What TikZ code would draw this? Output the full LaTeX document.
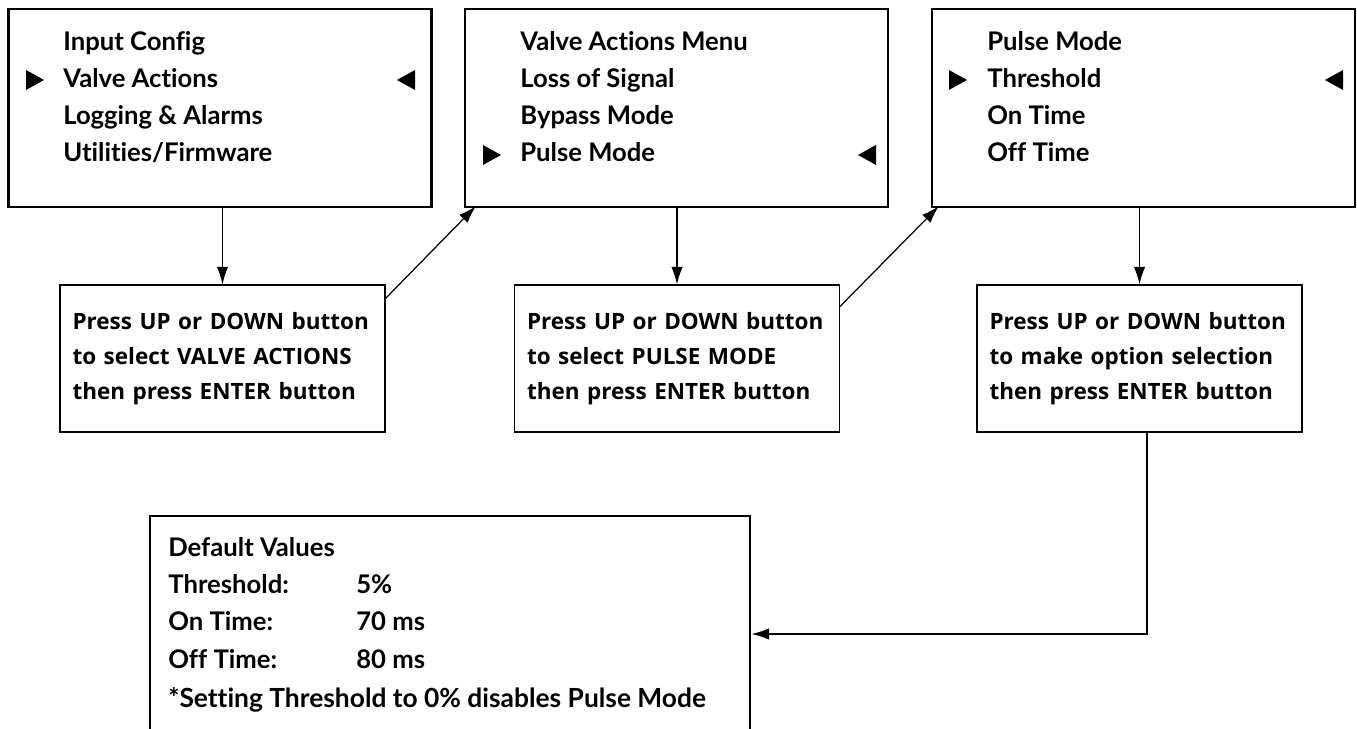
\documentclass[tikz,border=0pt]{standalone}
\usepackage{fontspec}
\setmainfont{Open Sans}
\newfontfamily\lcdfont{Lato}[Ligatures={NoCommon,NoContextual}]
\usetikzlibrary{arrows.meta}

\begin{document}
\begin{tikzpicture}[x=0.02cm, y=-0.02cm, >={Latex[length=10pt,width=6.5pt]},
	screen/.style={draw, line width=1.4pt, minimum width=8.46cm, minimum height=3.96cm},
	hint/.style={draw, line width=0.7pt, minimum height=2.94cm, text width=6cm, inner xsep=0.25cm, align=left, font=\bfseries\fontsize{12.8}{19.8}\selectfont},
	menuitem/.style={anchor=base west, inner sep=0pt, font=\lcdfont\bfseries\fontsize{14.6}{18}\selectfont},
	flow/.style={->, line width=0.7pt}]
	\useasboundingbox (0,0) rectangle (1357,729);

	% menu screens
	\node[screen] (scrMain) at (220,108) {};
	\foreach \txt [count=\i] in {Input Config, Valve Actions, Logging \& Alarms, Utilities/Firmware}
		\node[menuitem] (main\i) at (63,{14+37*\i}) {\txt};
	\fill (26,70) -- (44,80) -- (26,90) -- cycle;
	\fill (415,70) -- (397,80) -- (415,90) -- cycle;

	\node[screen] (scrValve) at (676.5,108) {};
	\foreach \txt [count=\i] in {Valve Actions Menu, Loss of Signal, Bypass Mode, Pulse Mode}
		\node[menuitem] (valve\i) at (520,{14+37*\i}) {\txt};
	\fill (483,145) -- (501,155) -- (483,165) -- cycle;
	\fill (876,145) -- (858,155) -- (876,165) -- cycle;

	\node[screen] (scrPulse) at (1143.5,108) {};
	\foreach \txt [count=\i] in {Pulse Mode, Threshold, On Time, Off Time}
		\node[menuitem] (pulse\i) at (987,{14+37*\i}) {\txt};
	\fill (949,70) -- (967,80) -- (949,90) -- cycle;
	\fill (1343,70) -- (1325,80) -- (1343,90) -- cycle;

	% button hints
	\node[hint] (hintValve) at (222.5,358.5) {Press UP or DOWN button\\to select VALVE ACTIONS\\then press ENTER button};
	\node[hint] (hintPulse) at (677,358.5) {Press UP or DOWN button\\to select PULSE MODE\\then press ENTER button};
	\node[hint] (hintOption) at (1139.5,358.5) {Press UP or DOWN button\\to make option selection\\then press ENTER button};

	% default values
	\node[draw, line width=1.2pt, minimum width=12.02cm, minimum height=4.72cm] (defaults) at (450,634) {};
	\node[menuitem] (defTitle) at (168,557) {Default Values};
	\node[menuitem] (defThr) at (168,594) {Threshold:};
	\node[menuitem] (defThrVal) at (356,594) {5\%};
	\node[menuitem] (defOn) at (168,631) {On Time:};
	\node[menuitem] (defOnVal) at (356,631) {70 ms};
	\node[menuitem] (defOff) at (168,669) {Off Time:};
	\node[menuitem] (defOffVal) at (356,669) {80 ms};
	\node[menuitem, font=\lcdfont\bfseries\fontsize{15}{18}\selectfont] (defNote) at (168,707) {*Setting Threshold to 0\% disables Pulse Mode};

	% connectors
	\draw[flow] (hintValve.north |- scrMain.south) -- (hintValve.north);
	\draw[flow] ([yshift=-0.28cm]hintValve.north east) -- ([xshift=0.24cm,yshift=0.04cm]scrValve.south west);
	\draw[flow] (hintPulse.north |- scrValve.south) -- (hintPulse.north);
	\draw[flow] ([yshift=-0.44cm]hintPulse.north east) -- ([xshift=0.16cm,yshift=0.04cm]scrPulse.south west);
	\draw[flow] (hintOption.north |- scrPulse.south) -- (hintOption.north);
	\draw[flow] ([xshift=0.15cm]hintOption.south) |- (defaults.east);
\end{tikzpicture}
\end{document}
